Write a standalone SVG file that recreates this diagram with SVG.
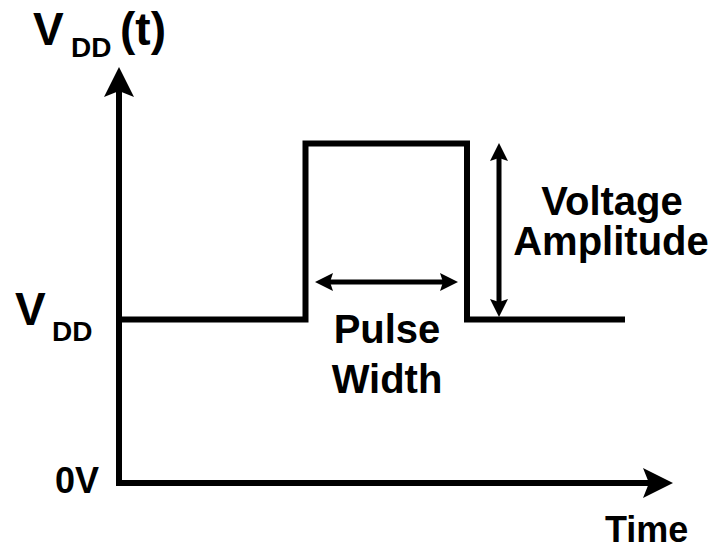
<svg xmlns="http://www.w3.org/2000/svg" width="719" height="554" viewBox="0 0 719 554">
  <style>
    .t { font-family: "Liberation Sans", Arial, sans-serif; font-weight: bold; fill: #000; }
    .big { font-size: 46px; }
    .sub { font-size: 28px; }
    .lbl { font-size: 40px; text-anchor: middle; }
    .ax { font-size: 36px; }
    .line { fill: none; stroke: #000; stroke-linejoin: miter; }
  </style>
  <defs>
    <marker id="bigArrow" markerUnits="userSpaceOnUse" viewBox="-31 -16 32 32" refX="-24" refY="0" markerWidth="32" markerHeight="32" orient="auto">
      <path d="M0,0 L-30,-15 L-24,0 L-30,15 Z" fill="#000"/>
    </marker>
    <marker id="smallArrow" markerUnits="userSpaceOnUse" viewBox="-20 -10 21 20" refX="-15" refY="0" markerWidth="21" markerHeight="20" orient="auto-start-reverse">
      <path d="M0,0 L-18,-9 L-15,0 L-18,9 Z" fill="#000"/>
    </marker>
  </defs>

  <g id="axes">
    <path id="y-axis" class="line" stroke-width="6" d="M119,486 V91" marker-end="url(#bigArrow)"/>
    <path id="x-axis" class="line" stroke-width="6" d="M116,483 H649" marker-end="url(#bigArrow)"/>
  </g>

  <g id="signal">
    <path class="line" stroke-width="6" d="M122,319.5 H305.5 V143.5 H467 V319.5 H625"/>
  </g>

  <g id="connectors">
    <path id="pulse-width-arrow" class="line" stroke-width="5" d="M330,282 H443" marker-start="url(#smallArrow)" marker-end="url(#smallArrow)"/>
    <path id="amplitude-arrow" class="line" stroke-width="5" d="M499,158 V302" marker-start="url(#smallArrow)" marker-end="url(#smallArrow)"/>
  </g>

  <g id="label-vdd-t">
    <text class="t big" x="33" y="45">V</text>
    <text class="t sub" x="71" y="57">DD</text>
    <text class="t big" x="120" y="45">(t)</text>
  </g>

  <g id="label-vdd">
    <text class="t big" x="15" y="325">V</text>
    <text class="t sub" x="52" y="341">DD</text>
  </g>

  <g id="label-0v">
    <text class="t ax" x="55" y="493">0V</text>
  </g>

  <g id="label-time">
    <text class="t ax" x="605" y="542">Time</text>
  </g>

  <g id="label-voltage-amplitude">
    <text class="t lbl" x="612" y="215">Voltage</text>
    <text class="t lbl" x="611" y="255">Amplitude</text>
  </g>

  <g id="label-pulse-width">
    <text class="t lbl" x="387" y="343">Pulse</text>
    <text class="t lbl" x="387" y="393">Width</text>
  </g>
</svg>
